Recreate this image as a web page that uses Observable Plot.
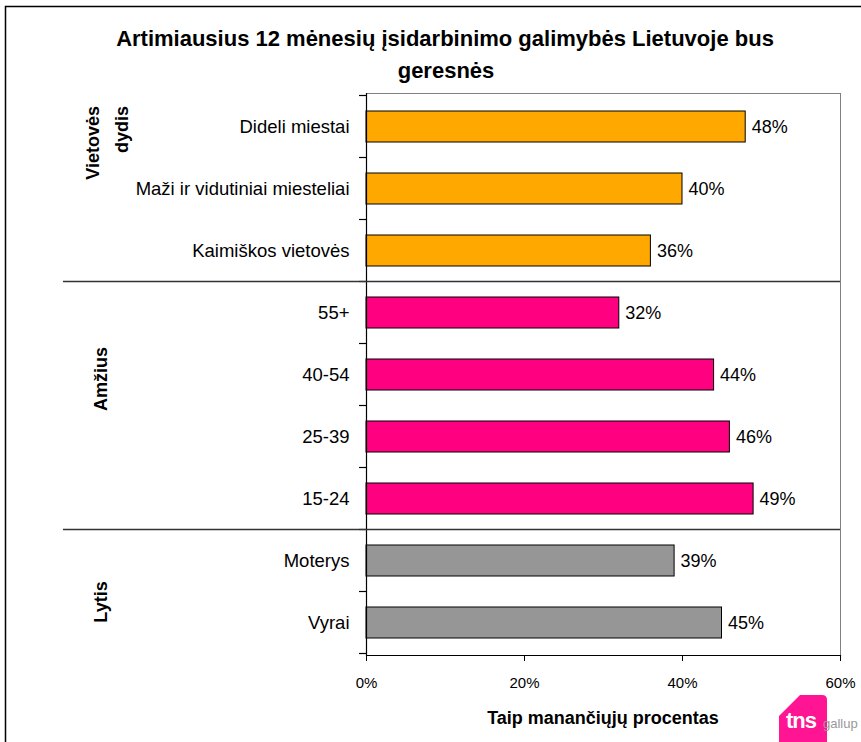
<!DOCTYPE html>
<html>
<head>
<meta charset="utf-8">
<script src="https://cdn.jsdelivr.net/npm/d3@7"></script>
<script src="https://cdn.jsdelivr.net/npm/@observablehq/plot@0.6"></script>
<style>
  html, body { margin: 0; padding: 0; background: #fff; overflow: hidden; }
  #chart svg { display: block; }
</style>
</head>
<body>
<div id="chart"></div>
<script>
const title = ["Artimiausius 12 mėnesių įsidarbinimo galimybės Lietuvoje bus", "geresnės"];
const categories = ["Dideli miestai", "Maži ir vidutiniai miesteliai", "Kaimiškos vietovės", "55+", "40-54", "25-39", "15-24", "Moterys", "Vyrai"];
const values = [48, 40, 36, 32, 44, 46, 49, 39, 45];
const groupOf = ["Vietovės dydis", "Vietovės dydis", "Vietovės dydis", "Amžius", "Amžius", "Amžius", "Amžius", "Lytis", "Lytis"];
const groups = ["Vietovės dydis", "Amžius", "Lytis"];
const groupColors = ["#FFA800", "#FF0080", "#969696"];
const xTicks = [0, 20, 40, 60];
const xLabel = "Taip manančiųjų procentas";

const data = categories.map((c, i) => ({cat: c, value: values[i], group: groupOf[i]}));

const FONT = "'Liberation Sans', Arial, Helvetica, sans-serif";

const chart = Plot.plot({
  width: 861,
  height: 742,
  marginLeft: 366,
  marginRight: 21,
  marginTop: 93,
  marginBottom: 87,
  style: {fontFamily: FONT, fontSize: "16px", color: "#000", background: "#fff"},
  x: {domain: [0, 60]},
  y: {domain: categories, paddingInner: 0.5, paddingOuter: 0.25},
  color: {domain: groups, range: groupColors},
  marks: [
    Plot.frame({stroke: "#808080", strokeWidth: 1}),
    Plot.barX(data, {x: "value", y: "cat", fill: "group", stroke: "#000", strokeWidth: 1}),
    Plot.text(data, {x: "value", y: "cat", text: d => d.value + "%", textAnchor: "start", dx: 6, fontSize: 18, fill: "#000"}),
    Plot.axisY({tickSize: 0, tickPadding: 17, fontSize: 18.5, label: null}),
    Plot.axisX({ticks: xTicks, tickSize: 6, tickPadding: 16, fontSize: 15, tickFormat: d => d + "%", label: null}),
    Plot.ruleX([0], {stroke: "#000", strokeWidth: 1.2}),
    Plot.frame({anchor: "bottom", stroke: "#000", strokeWidth: 1.2})
  ]
});

document.getElementById("chart").appendChild(chart);

const svg = d3.select(chart);
const ys = chart.scale("y");
const xs = chart.scale("x");
const step = ys.step, bw = ys.bandwidth;
const gap = (step - bw) / 2;
const x0 = xs.apply(0), x1 = xs.apply(60);
const boundaries = categories.map(c => ys.apply(c) - gap).concat([ys.apply(categories[categories.length - 1]) + bw + gap]);

// boundary ticks on the category axis
svg.append("g").selectAll("line").data(boundaries).join("line")
  .attr("x1", x0 - 7).attr("x2", x0).attr("y1", d => d).attr("y2", d => d)
  .attr("stroke", "#000").attr("stroke-width", 1.2);

// group separators
const sepY = groups.slice(1).map(g => ys.apply(categories[groupOf.indexOf(g)]) - gap);
svg.append("g").selectAll("line").data(sepY).join("line")
  .attr("x1", 63).attr("x2", x1).attr("y1", d => d).attr("y2", d => d)
  .attr("stroke", "#333").attr("stroke-width", 1.6);

// group labels
const gl = svg.append("g").attr("font-family", FONT).attr("font-weight", "bold").attr("font-size", 18).attr("fill", "#000");
gl.append("text").attr("transform", "translate(93,106) rotate(-90)").attr("text-anchor", "end").attr("dy", "0.35em").text("Vietovės");
gl.append("text").attr("transform", "translate(122,106) rotate(-90)").attr("text-anchor", "end").attr("dy", "0.35em").text("dydis");
gl.append("text").attr("transform", "translate(101,379) rotate(-90)").attr("text-anchor", "middle").attr("dy", "0.35em").text("Amžius");
gl.append("text").attr("transform", "translate(101,602) rotate(-90)").attr("text-anchor", "middle").attr("dy", "0.35em").text("Lytis");

// title
const t = svg.append("g").attr("font-family", FONT).attr("font-weight", "bold").attr("font-size", 22).attr("text-anchor", "middle").attr("fill", "#000");
t.append("text").attr("x", 445).attr("y", 46).text(title[0]);
t.append("text").attr("x", 446).attr("y", 78).text(title[1]);

// x axis title
svg.append("text").attr("x", (x0 + x1) / 2).attr("y", 724).attr("text-anchor", "middle")
  .attr("font-family", FONT).attr("font-weight", "bold").attr("font-size", 18).attr("fill", "#000").text(xLabel);

// outer border
svg.append("path").attr("d", "M5.5,742 V6.5 H861").attr("fill", "none").attr("stroke", "#000").attr("stroke-width", 1.5);

// logo
const lg = svg.append("g").attr("text-anchor", "start");
lg.append("path").attr("d", "M779,716 L800,695 L822,695 Q827,695 827,700 L827,742 L779,742 Z").attr("fill", "#FF1493");
lg.append("text").attr("x", 786).attr("y", 728).attr("text-anchor", "start").attr("font-family", FONT).attr("font-weight", "bold").attr("font-size", 22)
  .attr("letter-spacing", -1).attr("fill", "#fff").text("tns");
lg.append("text").attr("x", 823).attr("y", 728).attr("text-anchor", "start").attr("font-family", FONT).attr("font-size", 13)
  .attr("fill", "#999").text("gallup");
</script>
</body>
</html>
